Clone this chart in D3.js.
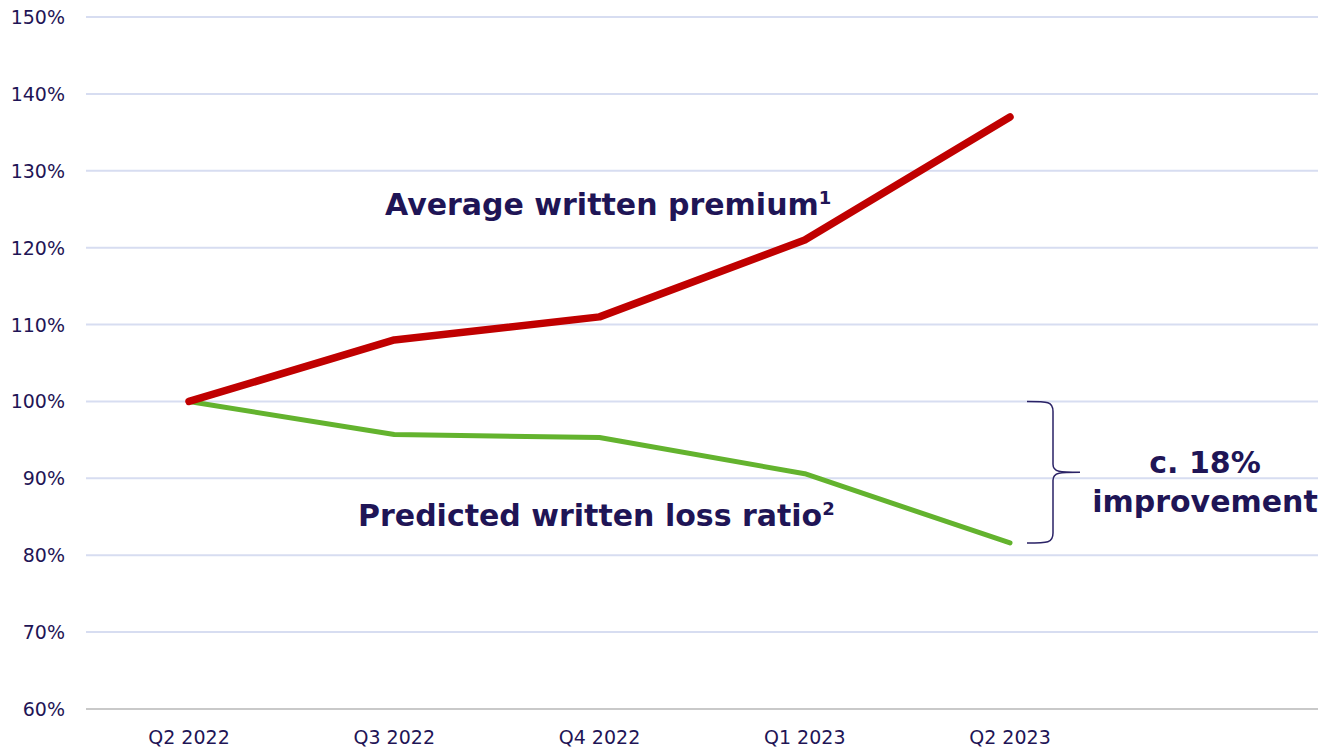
<!DOCTYPE html>
<html>
<head>
<meta charset="utf-8">
<script src="https://cdn.jsdelivr.net/npm/d3@7"></script>
<style>
  body { margin: 0; background: #fff; }
  text { font-family: "DejaVu Sans", Inter, sans-serif; fill: #1f1556; }
</style>
</head>
<body>
<svg id="chart" width="1324" height="749"></svg>
<script>
// quarters on the x axis
const quarters = ['Q2 2022', 'Q3 2022', 'Q4 2022', 'Q1 2023', 'Q2 2023'];
// indexed to Q2 2022 = 100%
const premium = [100, 108, 111, 121, 137];
const lossRatio = [100, 95.7, 95.3, 90.6, 81.6];
const yTicks = [60, 70, 80, 90, 100, 110, 120, 130, 140, 150];

const svg = d3.select('#chart');

// y scale: 60% at bottom, 150% at top
const y = d3.scaleLinear().domain([60, 150]).range([709, 17]);
// x scale, leave space on right for the bracket note
const x = d3.scalePoint().domain(quarters).range([189, 1010]);

// gridlines
svg.append('g')
  .selectAll('line')
  .data(yTicks)
  .enter().append('line')
    .attr('x1', 86)
    .attr('x2', 1318)
    .attr('y1', d => y(d))
    .attr('y2', d => y(d))
    .attr('stroke', d => d === 60 ? '#c9c9c9' : '#d7ddf1')
    .attr('stroke-width', 2);

// y tick labels
svg.append('g')
  .selectAll('text')
  .data(yTicks)
  .enter().append('text')
    .attr('x', 65)
    .attr('y', d => y(d) + 7)
    .attr('text-anchor', 'end')
    .attr('font-size', 19)
    .text(d => d + '%');

// x tick labels
svg.append('g')
  .selectAll('text')
  .data(quarters)
  .enter().append('text')
    .attr('x', d => x(d))
    .attr('y', 744)
    .attr('text-anchor', 'middle')
    .attr('font-size', 19)
    .text(d => d);

const line = d3.line()
  .x((d, i) => x(quarters[i]))
  .y(d => y(d));

svg.append('path')
  .datum(lossRatio)
  .attr('fill', 'none')
  .attr('stroke', '#63b32e')
  .attr('stroke-width', 5)
  .attr('stroke-linecap', 'round')
  .attr('stroke-linejoin', 'round')
  .attr('d', line);

svg.append('path')
  .datum(premium)
  .attr('fill', 'none')
  .attr('stroke', '#c00000')
  .attr('stroke-width', 7.5)
  .attr('stroke-linecap', 'round')
  .attr('stroke-linejoin', 'round')
  .attr('d', line);

// series labels
const lab1 = svg.append('text')
  .attr('x', 385)
  .attr('y', 215)
  .attr('font-size', 30)
  .attr('font-weight', 700)
  .text('Average written premium');
lab1.append('tspan').attr('font-size', 18).attr('dy', -11).text('1');

const lab2 = svg.append('text')
  .attr('x', 358)
  .attr('y', 526)
  .attr('font-size', 30)
  .attr('font-weight', 700)
  .text('Predicted written loss ratio');
lab2.append('tspan').attr('font-size', 18).attr('dy', -11).text('2');

// bracket spanning the last-quarter gap
const bTop = y(100), bBot = y(lossRatio[4]), bMid = (bTop + bBot) / 2;
const bx = 1053, tip = 1080;
svg.append('path')
  .attr('fill', 'none')
  .attr('stroke', '#2a2266')
  .attr('stroke-width', 1.5)
  .attr('d', `M1027,${bTop} C1048,${bTop} 1053,${bTop} ${bx},${bTop + 10}
              L${bx},${bMid - 8} C${bx},${bMid} 1060,${bMid} ${tip},${bMid}
              C1060,${bMid} ${bx},${bMid} ${bx},${bMid + 8}
              L${bx},${bBot - 10} C1053,${bBot} 1048,${bBot} 1027,${bBot}`);

svg.append('text')
  .attr('x', 1205)
  .attr('y', 473)
  .attr('text-anchor', 'middle')
  .attr('font-size', 30)
  .attr('font-weight', 700)
  .text('c. 18%');
svg.append('text')
  .attr('x', 1205)
  .attr('y', 512)
  .attr('text-anchor', 'middle')
  .attr('font-size', 30)
  .attr('font-weight', 700)
  .text('improvement');
</script>
</body>
</html>
